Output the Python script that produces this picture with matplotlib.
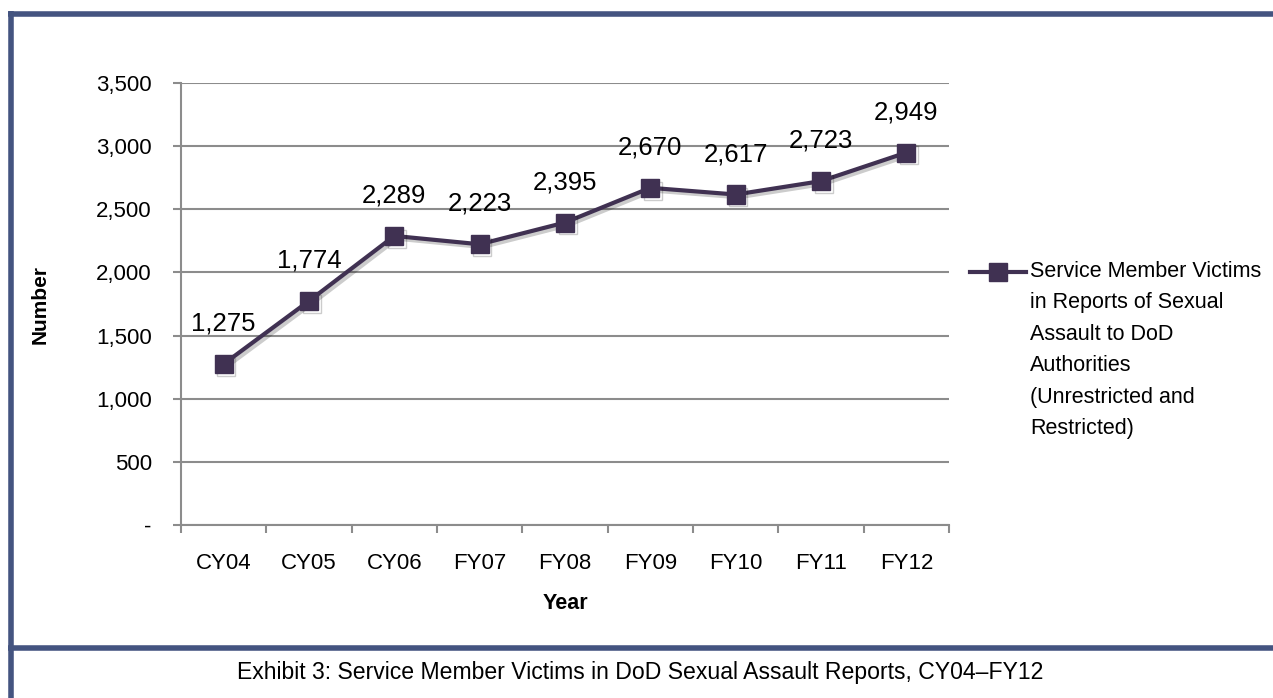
#!/usr/bin/env python3
"""Exhibit 3: Service Member Victims in DoD Sexual Assault Reports."""

import matplotlib
matplotlib.use('Agg')
import matplotlib.pyplot as plt
import matplotlib.patheffects as pe
from matplotlib.lines import Line2D
from matplotlib.ticker import FixedLocator, FuncFormatter

REGULAR = ['Liberation Sans', 'DejaVu Sans']
matplotlib.rcParams['font.family'] = REGULAR

years = ['CY04', 'CY05', 'CY06', 'FY07', 'FY08', 'FY09', 'FY10', 'FY11', 'FY12']
victims = [1275, 1774, 2289, 2223, 2395, 2670, 2617, 2723, 2949]
y_ticks = [0, 500, 1000, 1500, 2000, 2500, 3000, 3500]
series_label = ('Service Member Victims\nin Reports of Sexual\nAssault to DoD\n'
                'Authorities\n(Unrestricted and\nRestricted)')
caption = 'Exhibit 3: Service Member Victims in DoD Sexual Assault Reports, CY04\u2013FY12'

LINE = '#403152'
GRID = '#8c8c8c'
BORDER = '#445480'
W, H = 1273, 698

fig = plt.figure(figsize=(W / 100, H / 100), dpi=100)
ax = fig.add_axes([181 / W, 1 - 525 / H, (949 - 181) / W, (525 - 83) / H])

x = list(range(len(years)))
shadow = [pe.SimpleLineShadow(offset=(2, -2), alpha=0.2, shadow_color='black'),
          pe.Normal()]
ax.plot(x, victims, color=LINE, linewidth=3, marker='s', markersize=13,
        path_effects=shadow, zorder=3, clip_on=False)

for xi, v in zip(x, victims):
    ax.annotate(f'{v:,}', (xi, v), xytext=(0, 29), textcoords='offset points',
                ha='center', va='center', fontsize=18.5, color='black')

ax.set_xlim(-0.5, len(years) - 0.5)
ax.set_ylim(0, 3500)
ax.yaxis.set_major_locator(FixedLocator(y_ticks))
ax.yaxis.set_major_formatter(FuncFormatter(lambda v, p: '-' if v == 0 else f'{int(v):,}'))
ax.set_xticks(x)
ax.set_xticklabels(years)
ax.set_xticks([i - 0.5 for i in range(len(years) + 1)], minor=True)

ax.grid(axis='y', color=GRID, linewidth=1.5)
ax.set_axisbelow(True)
for s in ('top', 'right'):
    ax.spines[s].set_visible(False)
for s in ('left', 'bottom'):
    ax.spines[s].set_color(GRID)
    ax.spines[s].set_linewidth(1.5)

ax.tick_params(axis='y', length=6, width=1.5, color=GRID, pad=15, labelsize=16)
ax.tick_params(axis='x', which='major', length=0, pad=20, labelsize=16)
ax.tick_params(axis='x', which='minor', length=6, width=1.5, color=GRID,
               direction='out')

ax.set_ylabel('Number', fontsize=15, fontweight='bold')
ax.set_xlabel('Year', fontsize=15.5, fontweight='bold', labelpad=14)
ax.yaxis.set_label_coords(-0.171, 0.5)

# legend drawn by hand so the sample sits beside the first text line
ly = 1 - 272 / H
fig.add_artist(Line2D([970 / W, 1026 / W], [ly, ly], color=LINE, linewidth=3,
                      transform=fig.transFigure))
fig.add_artist(Line2D([998 / W], [ly], color=LINE, marker='s', markersize=13,
                      transform=fig.transFigure))
fig.text(1030 / W, 1 - 261 / H, series_label, ha='left', va='top', fontsize=15.5,
         linespacing=1.65)

# page frame
for xs, ys in [([8, W], [13.5, 13.5]), ([10.5, 10.5], [11, H]), ([8, W], [648, 648])]:
    fig.add_artist(Line2D([v / W for v in xs], [1 - v / H for v in ys],
                          color=BORDER, linewidth=4, solid_capstyle='butt',
                          transform=fig.transFigure))

fig.text(640 / W, 1 - 673 / H, caption, ha='center', va='center',
         fontsize=16.6)

fig.savefig('out.png', dpi=100)
